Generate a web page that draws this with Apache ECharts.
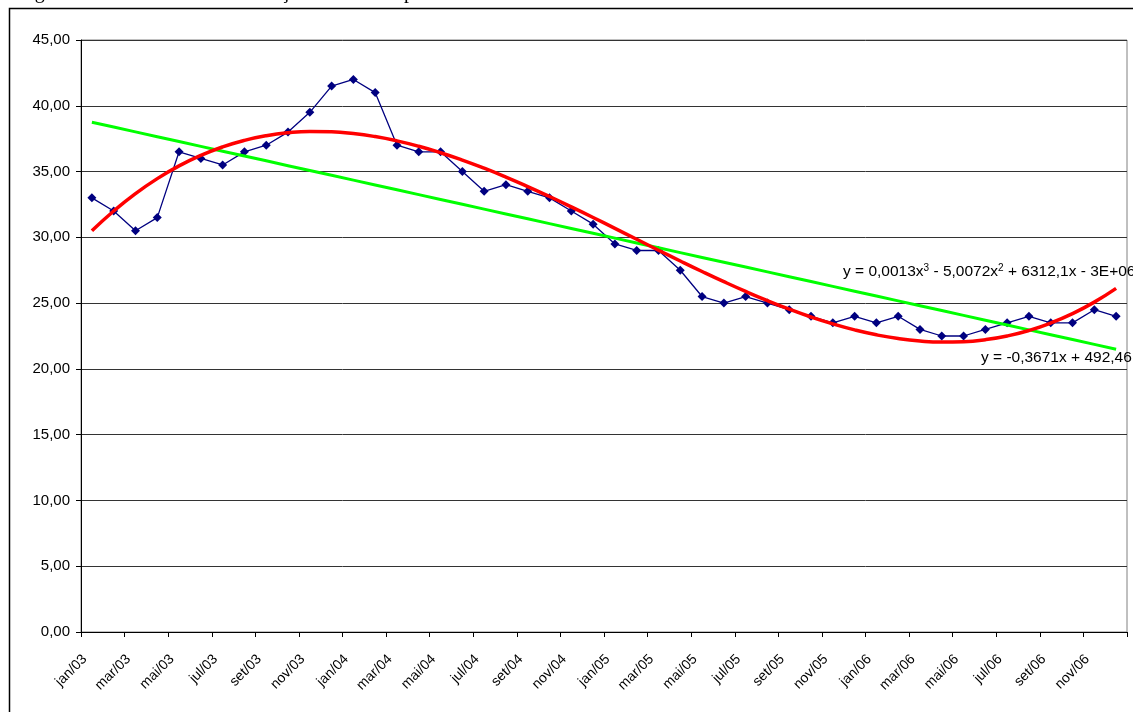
<!DOCTYPE html>
<html>
<head>
<meta charset="utf-8">
<script src="https://cdn.jsdelivr.net/npm/echarts@6/dist/echarts.min.js"></script>
<style>
html,body{margin:0;padding:0;background:#fff;}
#chart{width:1133px;height:712px;}
</style>
</head>
<body>
<div id="chart"></div>
<script>
// ---- data ----
const months = [
  'jan/03','fev/03','mar/03','abr/03','mai/03','jun/03','jul/03','ago/03','set/03','out/03','nov/03','dez/03',
  'jan/04','fev/04','mar/04','abr/04','mai/04','jun/04','jul/04','ago/04','set/04','out/04','nov/04','dez/04',
  'jan/05','fev/05','mar/05','abr/05','mai/05','jun/05','jul/05','ago/05','set/05','out/05','nov/05','dez/05',
  'jan/06','fev/06','mar/06','abr/06','mai/06','jun/06','jul/06','ago/06','set/06','out/06','nov/06','dez/06'
];
const values = [
  33.0, 32.0, 30.5, 31.5, 36.5, 36.0, 35.5, 36.5, 37.0, 38.0, 39.5, 41.5,
  42.0, 41.0, 37.0, 36.5, 36.5, 35.0, 33.5, 34.0, 33.5, 33.0, 32.0, 31.0,
  29.5, 29.0, 29.0, 27.5, 25.5, 25.0, 25.5, 25.0, 24.5, 24.0, 23.5, 24.0,
  23.5, 24.0, 23.0, 22.5, 22.5, 23.0, 23.5, 24.0, 23.5, 23.5, 24.5, 24.0
];
const yMin = 0, yMax = 45, yStep = 5;
const eqCubic = ['y = 0,0013x', '3', ' - 5,0072x', '2', ' + 6312,1x - 3E+06'];
const eqLinear = 'y = -0,3671x + 492,46';
const headerText = 'Figura 7 – Nossa Caixa: Informações sobre comportamentos';

// ---- least-squares trend lines computed from the data ----
function polyfit(xs, ys, deg) {
  const n = deg + 1;
  const A = [];
  for (let r = 0; r < n; r++) {
    A.push(new Array(n + 1).fill(0));
    for (let c = 0; c < n; c++) {
      let s = 0; for (let i = 0; i < xs.length; i++) s += Math.pow(xs[i], r + c);
      A[r][c] = s;
    }
    let s = 0; for (let i = 0; i < xs.length; i++) s += ys[i] * Math.pow(xs[i], r);
    A[r][n] = s;
  }
  for (let i = 0; i < n; i++) {
    let p = i;
    for (let k = i + 1; k < n; k++) if (Math.abs(A[k][i]) > Math.abs(A[p][i])) p = k;
    [A[i], A[p]] = [A[p], A[i]];
    for (let k = i + 1; k < n; k++) {
      const f = A[k][i] / A[i][i];
      for (let j = i; j <= n; j++) A[k][j] -= f * A[i][j];
    }
  }
  const coef = new Array(n).fill(0);
  for (let i = n - 1; i >= 0; i--) {
    let s = A[i][n];
    for (let j = i + 1; j < n; j++) s -= A[i][j] * coef[j];
    coef[i] = s / A[i][i];
  }
  return coef;
}
const xs = values.map((_, i) => i);
const linC = polyfit(xs, values, 1);
const cubC = polyfit(xs, values, 3);
const evalPoly = (c, x) => c.reduce((s, a, k) => s + a * Math.pow(x, k), 0);
const linear = xs.map(x => evalPoly(linC, x));
const cubic = xs.map(x => evalPoly(cubC, x));

// ---- chart ----
const F = '"Liberation Sans", Arial, sans-serif';
const chart = echarts.init(document.getElementById('chart'));
chart.setOption({
  animation: false,
  backgroundColor: '#ffffff',
  grid: { left: 81, right: 6, top: 40, bottom: 80, show: true, borderColor: '#808080', borderWidth: 1, backgroundColor: 'transparent' },
  xAxis: {
    type: 'category',
    data: months,
    boundaryGap: true,
    axisLine: { lineStyle: { color: '#000', width: 1 } },
    axisTick: { show: true, interval: 1, length: 5, lineStyle: { color: '#000' } },
    axisLabel: { interval: 1, rotate: 45, margin: 18, padding: [0, 10, 0, 0], color: '#000', fontSize: 14, fontFamily: F },
    splitLine: { show: false }
  },
  yAxis: {
    type: 'value',
    min: yMin, max: yMax, interval: yStep,
    axisLine: { show: true, lineStyle: { color: '#000', width: 1 } },
    axisTick: { show: true, length: 5, lineStyle: { color: '#000' } },
    axisLabel: { margin: 11, color: '#000', fontSize: 15, fontFamily: F, formatter: v => v.toFixed(2).replace('.', ',') },
    splitLine: { show: true, lineStyle: { color: '#333', width: 1 } }
  },
  series: [
    {
      name: 'Dados', type: 'line', data: values, z: 2,
      symbol: 'diamond', symbolSize: 9, showAllSymbol: true,
      lineStyle: { color: '#000080', width: 1.3 },
      itemStyle: { color: '#000080' }
    },
    {
      name: 'Linear', type: 'line', data: linear, z: 3,
      symbol: 'none', lineStyle: { color: '#00ff00', width: 3 }
    },
    {
      name: 'Polinomial', type: 'line', data: cubic, z: 4, smooth: 0.5,
      symbol: 'none', lineStyle: { color: '#ff0000', width: 3.5 }
    }
  ],
  graphic: [
    { type: 'rect', silent: true, z: 10, shape: { x: 9.5, y: 8.5, width: 1400, height: 900 },
      style: { fill: 'none', stroke: '#000', lineWidth: 1.5 } },
    { type: 'text', silent: true, x: 18, y: 3, z: 10,
      style: { text: headerText, font: '20px "Liberation Serif", "Times New Roman", serif', fill: '#000', verticalAlign: 'bottom' } },
    { type: 'text', silent: true, x: 843, y: 272, z: 10,
      style: {
        text: '{a|' + eqCubic[0] + '}{s|' + eqCubic[1] + '}{a|' + eqCubic[2] + '}{s|' + eqCubic[3] + '}{a|' + eqCubic[4] + '}',
        verticalAlign: 'middle',
        rich: {
          a: { fontSize: 15.5, fontFamily: F, fill: '#000', lineHeight: 18 },
          s: { fontSize: 10, fontFamily: F, fill: '#000', lineHeight: 18, verticalAlign: 'top' }
        }
      } },
    { type: 'text', silent: true, x: 981, y: 358, z: 10,
      style: { text: eqLinear, font: '15.5px ' + F, fill: '#000', verticalAlign: 'middle' } }
  ]
});
</script>
</body>
</html>
